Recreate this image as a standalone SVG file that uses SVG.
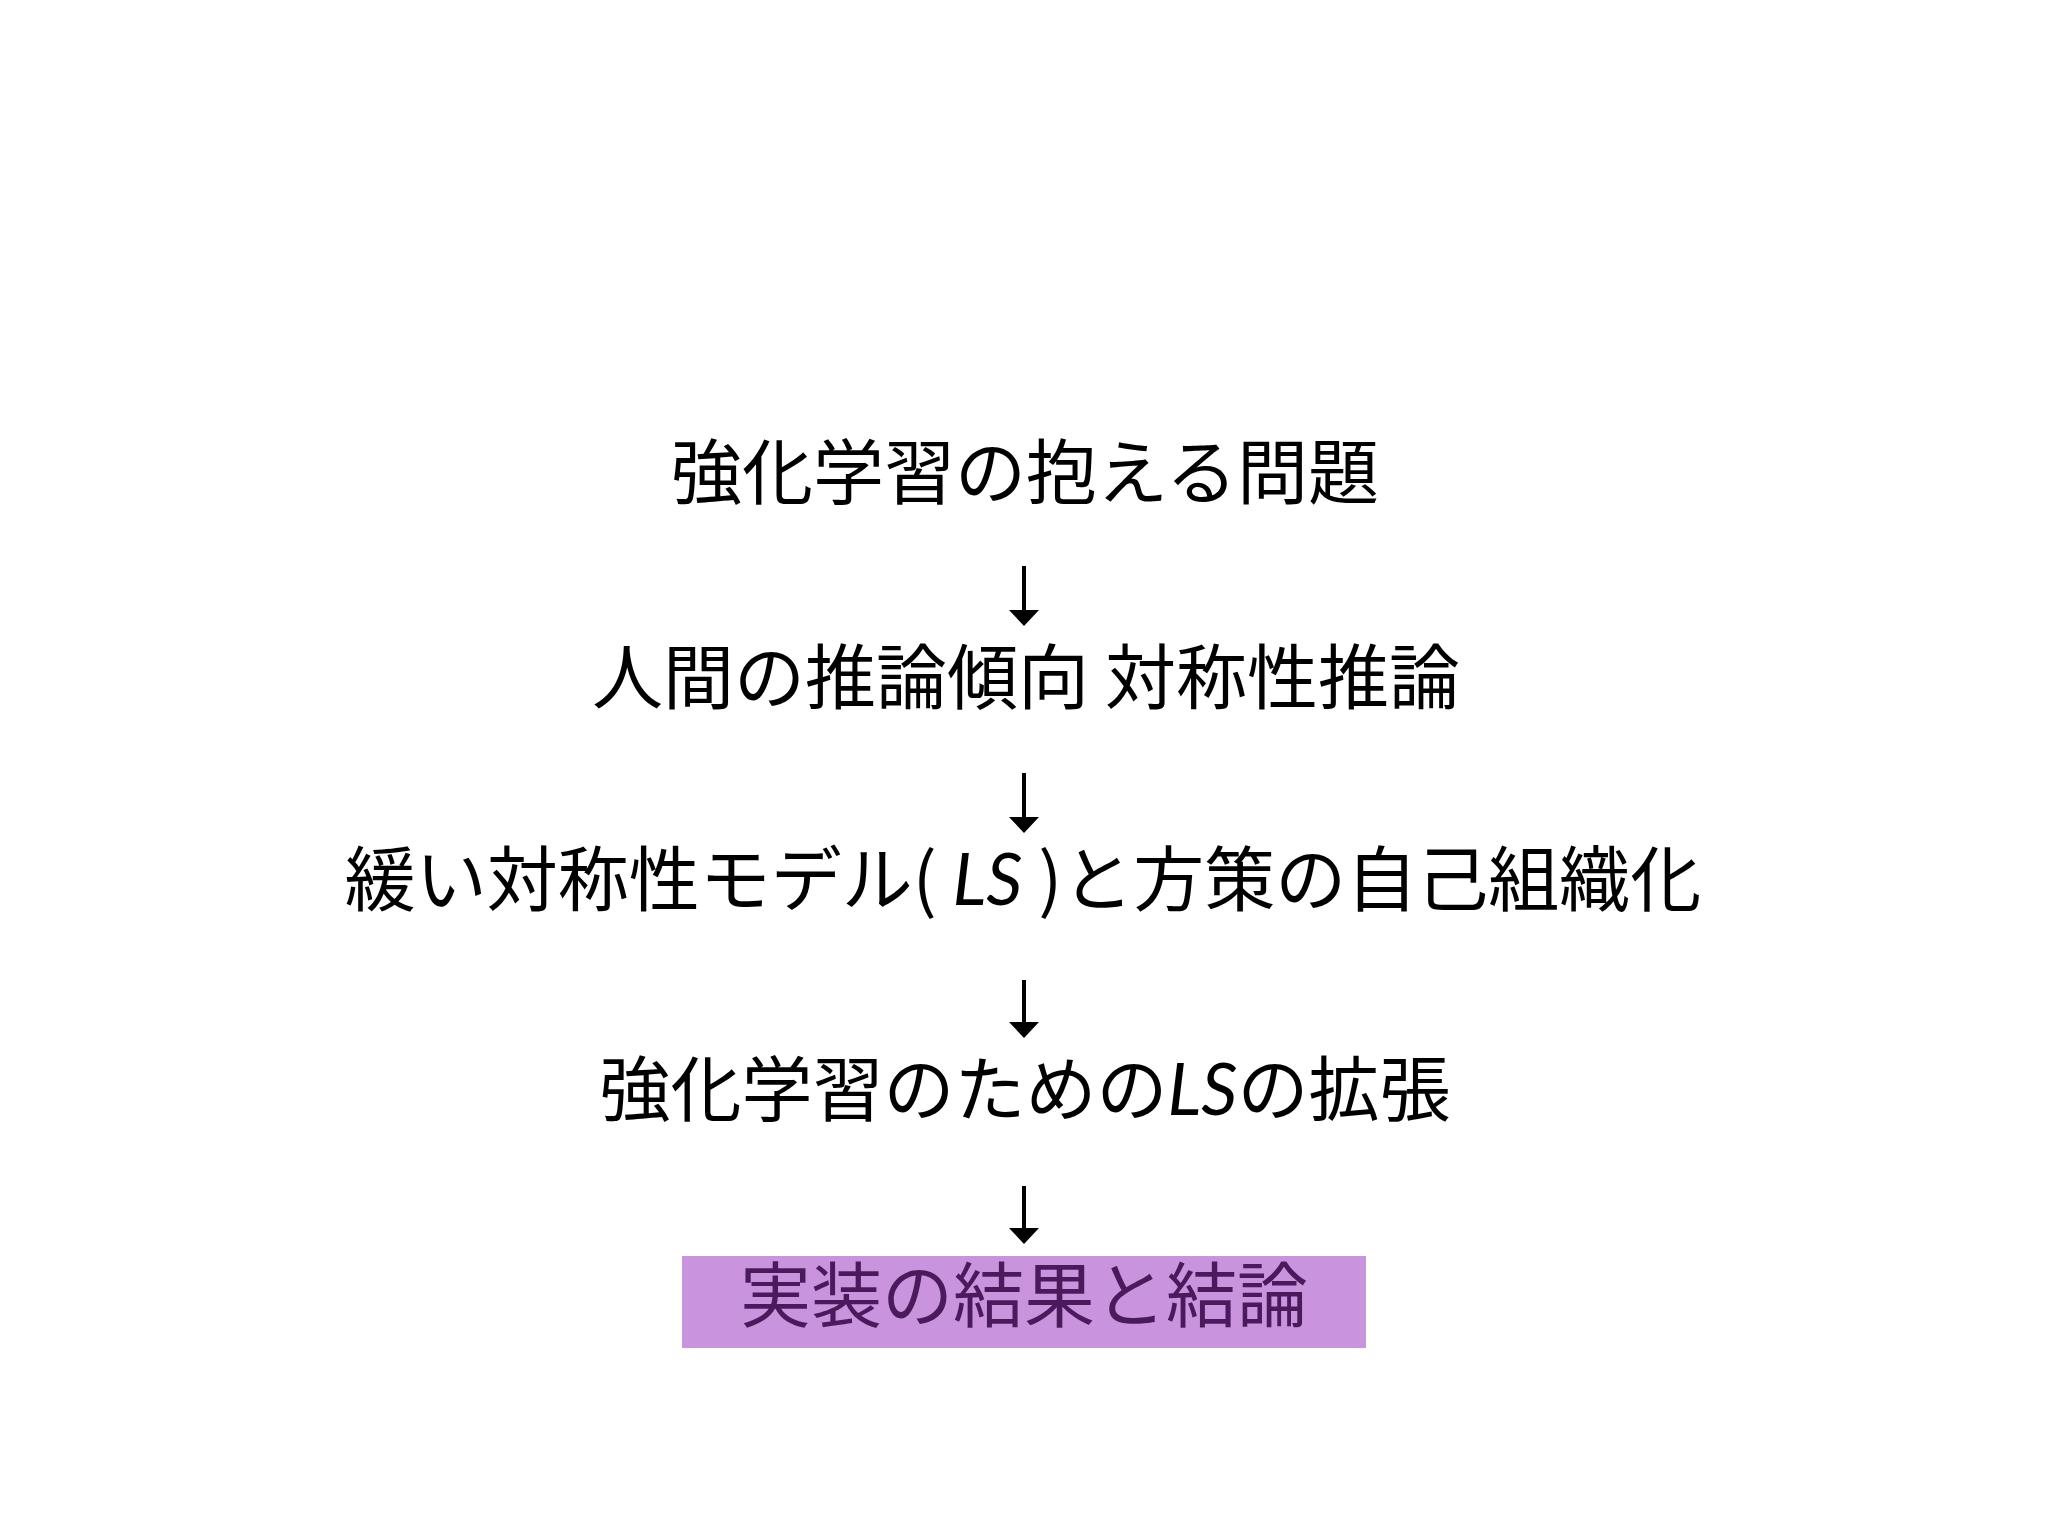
<svg xmlns="http://www.w3.org/2000/svg" width="2048" height="1536" viewBox="0 0 2048 1536">
<style>
.t{font-family:"Noto Sans CJK JP","Noto Sans CJK SC",sans-serif;font-size:71px;fill:#000;text-anchor:middle}
.ls{font-family:Lato,"Open Sans",sans-serif;font-style:italic}
.conn line{stroke:#000;stroke-width:4}
.conn polygon{fill:#000}
</style>
<rect width="2048" height="1536" fill="#fff"/>
<g id="n1"><text class="t" x="1025" y="498">強化学習の抱える問題</text></g>
<g id="n2"><text class="t" x="1026" y="703">人間の推論傾向 対称性推論</text></g>
<g id="n3"><text class="t" x="1023" y="905">緩い対称性モデル( <tspan class="ls">LS</tspan> )と方策の自己組織化</text></g>
<g id="n4"><text class="t" x="1025" y="1115">強化学習のための<tspan class="ls">LS</tspan>の拡張</text></g>
<g id="n5"><rect x="682" y="1256" width="684" height="92" fill="#c994dd"/><text class="t" x="1024" y="1321" style="fill:#4a1a5c">実装の結果と結論</text></g>
<g class="conn" id="connectors">
<line x1="1024" y1="566" x2="1024" y2="612"/><polygon points="1009,610 1039,610 1024,626"/>
<line x1="1024" y1="773" x2="1024" y2="819"/><polygon points="1009,817 1039,817 1024,833"/>
<line x1="1024" y1="980" x2="1024" y2="1024"/><polygon points="1009,1022 1039,1022 1024,1038"/>
<line x1="1024" y1="1186" x2="1024" y2="1230"/><polygon points="1009,1228 1039,1228 1024,1244"/>
</g>
</svg>
